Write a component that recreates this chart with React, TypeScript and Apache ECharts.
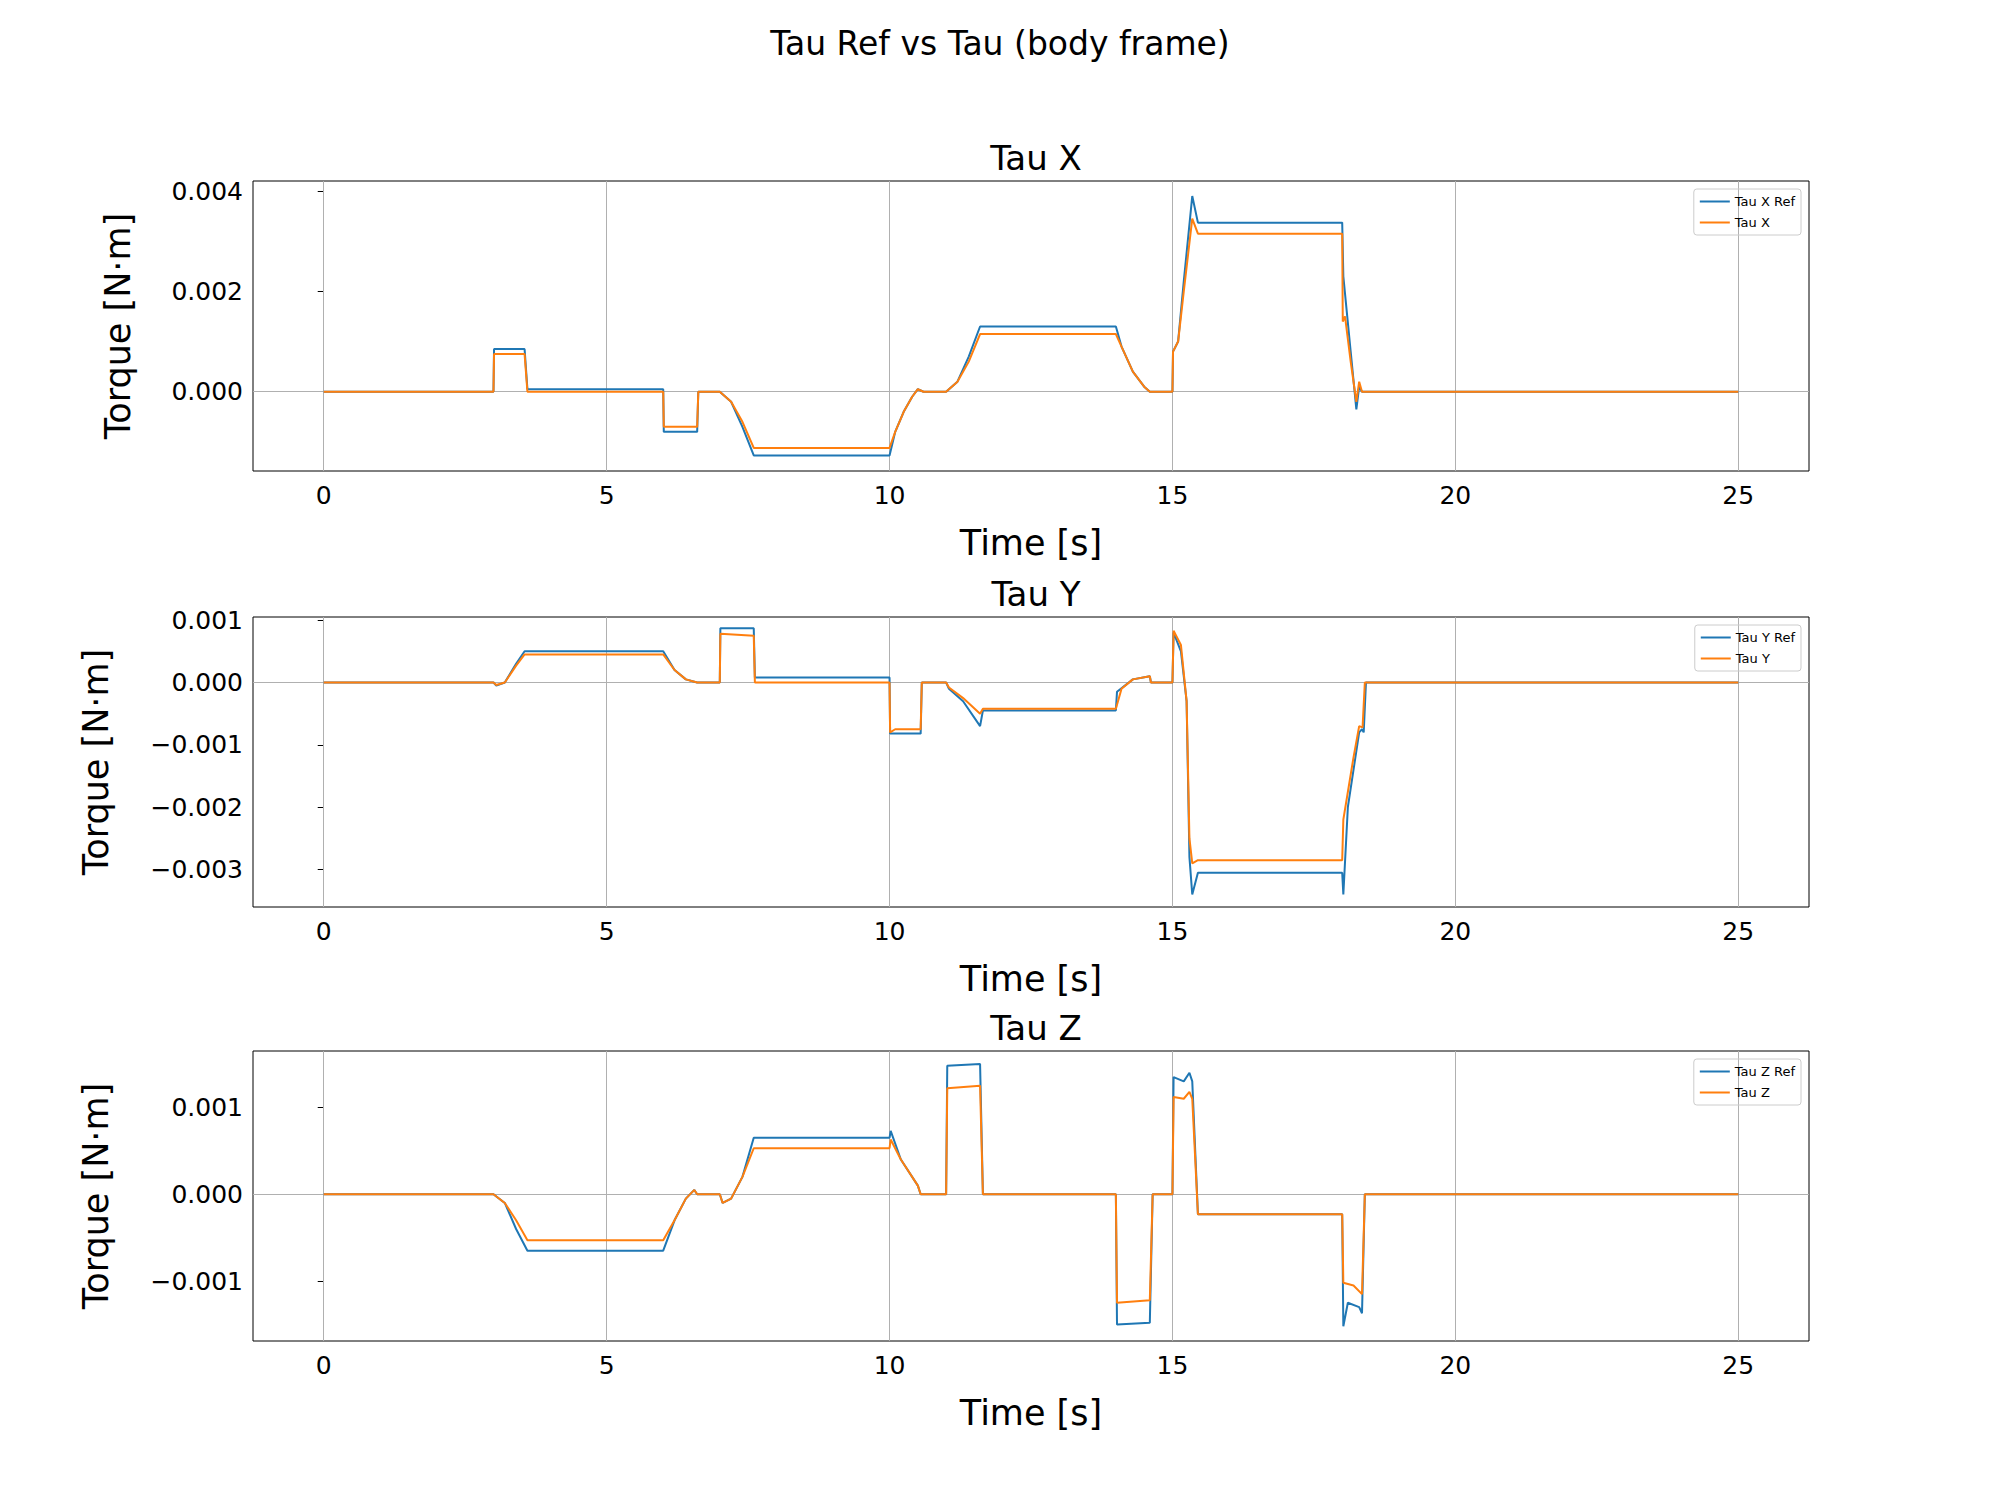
import React, { useEffect, useRef } from "react";
import * as echarts from "echarts";

// [time s, torque N·m]
const tauXRef = [
  [0, 0], [3.0, 0], [3.01, 0.00085], [3.55, 0.00085], [3.6, 0.00005], [6.0, 0.00005], [6.01, -0.0008],
  [6.6, -0.0008], [6.62, 0], [7.0, 0], [7.2, -0.0002], [7.4, -0.0007], [7.6, -0.00127], [10.0, -0.00127],
  [10.1, -0.0008], [10.25, -0.0004], [10.4, -0.0001], [10.5, 0.00005], [10.6, 0], [11.0, 0], [11.2, 0.0002],
  [11.4, 0.0007], [11.6, 0.0013], [14.0, 0.0013], [14.1, 0.0009], [14.3, 0.0004], [14.5, 0.0001], [14.6, 0],
  [15.0, 0], [15.01, 0.0008], [15.1, 0.001], [15.2, 0.0022], [15.35, 0.0039], [15.45, 0.00337], [18.0, 0.00337],
  [18.02, 0.0023], [18.15, 0.0008], [18.25, -0.00035], [18.3, 0.0001], [18.35, 0], [25, 0],
];
const tauX = [
  [0, 0], [3.0, 0], [3.01, 0.00075], [3.55, 0.00075], [3.6, 0], [6.0, 0], [6.01, -0.0007],
  [6.6, -0.0007], [6.62, 0], [7.0, 0], [7.2, -0.0002], [7.4, -0.0006], [7.6, -0.00112], [10.0, -0.00112],
  [10.1, -0.0008], [10.25, -0.0004], [10.4, -0.0001], [10.5, 0.00005], [10.6, 0], [11.0, 0], [11.2, 0.0002],
  [11.4, 0.0006], [11.6, 0.00115], [14.0, 0.00115], [14.1, 0.0009], [14.3, 0.0004], [14.5, 0.0001], [14.6, 0],
  [15.0, 0], [15.01, 0.0008], [15.1, 0.001], [15.2, 0.002], [15.35, 0.00345], [15.45, 0.00315], [18.0, 0.00315],
  [18.01, 0.0014], [18.05, 0.0015], [18.15, 0.0006], [18.25, -0.0002], [18.3, 0.0002], [18.35, 0], [25, 0],
];
const tauYRef = [
  [0, 0], [3.0, 0], [3.05, -0.00005], [3.2, 0], [3.4, 0.0003], [3.55, 0.0005], [6.0, 0.0005], [6.2, 0.0002],
  [6.4, 0.00005], [6.6, 0], [7.0, 0], [7.01, 0.00087], [7.6, 0.00087], [7.62, 0.00008], [10.0, 0.00008],
  [10.01, -0.00082], [10.55, -0.00082], [10.57, 0], [11.0, 0], [11.05, -0.0001], [11.3, -0.0003],
  [11.6, -0.0007], [11.65, -0.00045], [14.0, -0.00045], [14.02, -0.00015], [14.3, 0.00005], [14.6, 0.0001],
  [14.62, 0], [15.0, 0], [15.02, 0.0008], [15.15, 0.0005], [15.25, -0.0003], [15.3, -0.0028], [15.35, -0.0034],
  [15.45, -0.00305], [18.0, -0.00305], [18.02, -0.0034], [18.1, -0.002], [18.3, -0.0008], [18.35, -0.00075],
  [18.38, -0.0008], [18.42, 0], [25, 0],
];
const tauY = [
  [0, 0], [3.0, 0], [3.05, -0.00004], [3.2, 0], [3.4, 0.00027], [3.55, 0.00045], [6.0, 0.00045], [6.2, 0.0002],
  [6.4, 0.00005], [6.6, 0], [7.0, 0], [7.01, 0.00078], [7.6, 0.00075], [7.62, 0], [10.0, 0],
  [10.01, -0.0008], [10.1, -0.00075], [10.55, -0.00075], [10.57, 0], [11.0, 0], [11.05, -0.00008],
  [11.3, -0.00025], [11.6, -0.0005], [11.65, -0.00042], [14.0, -0.00042], [14.1, -0.0001], [14.3, 0.00005],
  [14.6, 0.0001], [14.62, 0], [15.0, 0], [15.02, 0.00083], [15.15, 0.0006], [15.25, -0.0003], [15.3, -0.0025],
  [15.35, -0.0029], [15.45, -0.00285], [18.0, -0.00285], [18.02, -0.0022], [18.2, -0.0012], [18.3, -0.0007],
  [18.36, -0.00072], [18.4, 0], [25, 0],
];
const tauZRef = [
  [0, 0], [3.0, 0], [3.2, -0.0001], [3.4, -0.0004], [3.6, -0.00065], [6.0, -0.00065], [6.2, -0.0003],
  [6.4, -0.00005], [6.55, 0.00005], [6.6, 0], [7.0, 0], [7.05, -0.0001], [7.2, -0.00005], [7.4, 0.0002],
  [7.6, 0.00065], [10.0, 0.00065], [10.02, 0.00073], [10.2, 0.0004], [10.5, 0.0001], [10.55, 0], [11.0, 0],
  [11.02, 0.00148], [11.6, 0.0015], [11.65, 0], [14.0, 0], [14.02, -0.0015], [14.6, -0.00148], [14.65, 0],
  [15.0, 0], [15.02, 0.00135], [15.2, 0.0013], [15.3, 0.0014], [15.35, 0.0013], [15.45, -0.00023],
  [18.0, -0.00023], [18.02, -0.00152], [18.1, -0.00125], [18.3, -0.0013], [18.35, -0.00137], [18.4, 0], [25, 0],
];
const tauZ = [
  [0, 0], [3.0, 0], [3.2, -0.0001], [3.4, -0.0003], [3.6, -0.00053], [6.0, -0.00053], [6.2, -0.0003],
  [6.4, -0.00005], [6.55, 0.00005], [6.6, 0], [7.0, 0], [7.05, -0.0001], [7.2, -0.00005], [7.4, 0.0002],
  [7.6, 0.00053], [10.0, 0.00053], [10.02, 0.00063], [10.2, 0.0004], [10.5, 0.0001], [10.55, 0], [11.0, 0],
  [11.02, 0.00122], [11.6, 0.00125], [11.65, 0], [14.0, 0], [14.02, -0.00125], [14.6, -0.00122], [14.65, 0],
  [15.0, 0], [15.02, 0.00112], [15.2, 0.0011], [15.3, 0.00118], [15.35, 0.0011], [15.45, -0.00023],
  [18.0, -0.00023], [18.02, -0.00102], [18.2, -0.00105], [18.35, -0.00115], [18.4, 0], [25, 0],
];

const xTicks = [0, 5, 10, 15, 20, 25];
const yTicksX = [0, 0.002, 0.004];
const yTicksY = [-0.003, -0.002, -0.001, 0, 0.001];
const yTicksZ = [-0.001, 0, 0.001];
const yRanges = [[-0.00158, 0.0042], [-0.0036, 0.00105], [-0.00169, 0.00165]];
const titles = ["Tau X", "Tau Y", "Tau Z"];
const names = [["Tau X Ref", "Tau X"], ["Tau Y Ref", "Tau Y"], ["Tau Z Ref", "Tau Z"]];

const FONT = "DejaVu Sans";
const tops = [181, 617, 1051];
const H = 290;

const fmt = (v: number) => (v < 0 ? "\u2212" : "") + Math.abs(v).toFixed(3);

const App = () => {
  const ref = useRef<HTMLDivElement>(null);

  useEffect(() => {
    document.body.style.margin = "0";
    const chart = echarts.init(ref.current as HTMLDivElement, null, { renderer: "svg" });
    const yTicks = [yTicksX, yTicksY, yTicksZ];
    const data = [[tauXRef, tauX], [tauYRef, tauY], [tauZRef, tauZ]];

    const option: any = {
      animation: false,
      backgroundColor: "#fff",
      title: [
        { text: "Tau Ref vs Tau (body frame)", left: "center", top: 22, textStyle: { fontFamily: FONT, fontSize: 33, fontWeight: "normal", color: "#000" } },
        ...titles.map((t, i) => ({
          text: t, left: 1031, textAlign: "center", top: tops[i] - 45,
          textStyle: { fontFamily: FONT, fontSize: 34, fontWeight: "normal", color: "#000" },
        })),
      ],
      legend: names.map((n, i) => ({
        data: n, orient: "vertical", right: 199, top: tops[i] + 8,
        itemWidth: 30, itemHeight: 2, icon: "rect", itemGap: 8,
        padding: [6, 6, 6, 6], borderColor: "#ccc", borderWidth: 1, borderRadius: 3,
        textStyle: { fontFamily: FONT, fontSize: 13, color: "#000" },
      })),
      grid: tops.map((t) => ({ left: 253, width: 1556, top: t, height: H, show: true, borderColor: "#000", borderWidth: 1, backgroundColor: "transparent" })),
      xAxis: tops.map((_, i) => ({
        type: "value", gridIndex: i, min: -1.25, max: 26.25,
        name: "Time [s]", nameLocation: "middle", nameGap: 54,
        nameTextStyle: { fontFamily: FONT, fontSize: 35, color: "#000" },
        axisLine: { show: false }, splitLine: { show: false },
        axisTick: { show: true, length: 6, lineStyle: { color: "#000" }, customValues: xTicks },
        axisLabel: { customValues: xTicks, fontFamily: FONT, fontSize: 25, color: "#000", margin: 12 },
      })),
      yAxis: tops.map((_, i) => ({
        type: "value", gridIndex: i, min: yRanges[i][0], max: yRanges[i][1],
        name: "Torque [N·m]", nameLocation: "middle", nameGap: i === 0 ? 118 : 140,
        nameTextStyle: { fontFamily: FONT, fontSize: 35, color: "#000" },
        axisLine: { show: false }, splitLine: { show: false },
        axisTick: { show: true, length: 6, lineStyle: { color: "#000" }, customValues: yTicks[i] },
        axisLabel: { customValues: yTicks[i], formatter: fmt, fontFamily: FONT, fontSize: 25, color: "#000", margin: 10 },
      })),
      series: data.flatMap((pair, i) =>
        pair.map((d, j) => ({
          type: "line", name: names[i][j], xAxisIndex: i, yAxisIndex: i, data: d,
          showSymbol: false, symbol: "none", z: 3 + j,
          lineStyle: { width: 2, color: j === 0 ? "#1f77b4" : "#ff7f0e" },
          itemStyle: { color: j === 0 ? "#1f77b4" : "#ff7f0e" },
          markLine: j === 0 ? {
            silent: true, symbol: "none", label: { show: false }, z: 1,
            lineStyle: { color: "#b0b0b0", width: 1, type: "solid" },
            data: [...xTicks.map((x) => ({ xAxis: x })), ...yTicks[i].map((y) => ({ yAxis: y }))],
          } : undefined,
        }))
      ),
    };
    chart.setOption(option);
    return () => chart.dispose();
  }, []);

  return <div ref={ref} style={{ width: 2000, height: 1500 }} />;
};

export default App;
